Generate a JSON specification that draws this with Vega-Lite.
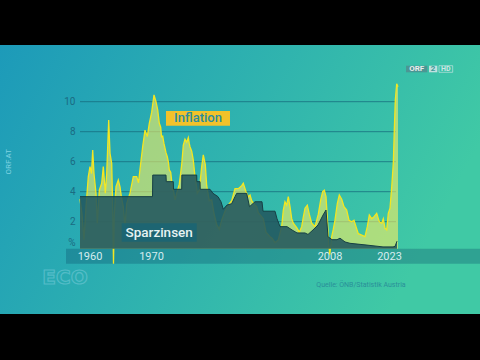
{
  "$schema": "https://vega.github.io/schema/vega-lite/v6.json",
  "width": 480,
  "height": 360,
  "autosize": {"type": "none"},
  "padding": 0,
  "background": "#000000",
  "config": {"view": {"stroke": null}, "axis": {"domain": false, "ticks": false, "labels": false, "grid": false, "title": null}},
  "datasets": {
    "inflation": [
      {"year": 1960.0, "infl": 3.5}, {"year": 1960.4, "infl": 2.5}, {"year": 1960.8, "infl": 0.8}, {"year": 1961.2, "infl": 3.0},
      {"year": 1961.66, "infl": 5.0}, {"year": 1962.0, "infl": 5.67}, {"year": 1962.3, "infl": 5.2}, {"year": 1962.54, "infl": 6.78},
      {"year": 1962.8, "infl": 5.2}, {"year": 1963.2, "infl": 3.9}, {"year": 1963.46, "infl": 1.9}, {"year": 1963.86, "infl": 4.1},
      {"year": 1964.34, "infl": 4.56}, {"year": 1964.66, "infl": 5.67}, {"year": 1965.06, "infl": 3.9}, {"year": 1965.34, "infl": 5.2},
      {"year": 1965.74, "infl": 8.78}, {"year": 1966.0, "infl": 6.56}, {"year": 1966.34, "infl": 5.9}, {"year": 1966.54, "infl": 3.0},
      {"year": 1966.7, "infl": -0.8}, {"year": 1966.86, "infl": 2.5}, {"year": 1967.2, "infl": 4.33}, {"year": 1967.66, "infl": 4.78},
      {"year": 1968.0, "infl": 4.33}, {"year": 1968.3, "infl": 3.6}, {"year": 1968.66, "infl": 3.0}, {"year": 1969.0, "infl": 1.67},
      {"year": 1969.34, "infl": 3.2}, {"year": 1970.0, "infl": 3.9}, {"year": 1970.66, "infl": 5.0}, {"year": 1971.34, "infl": 5.0},
      {"year": 1971.7, "infl": 4.6}, {"year": 1972.0, "infl": 5.5}, {"year": 1972.54, "infl": 7.0}, {"year": 1973.0, "infl": 8.1},
      {"year": 1973.46, "infl": 7.67}, {"year": 1973.86, "infl": 8.56}, {"year": 1974.34, "infl": 9.3}, {"year": 1974.8, "infl": 10.45},
      {"year": 1975.2, "infl": 10.0}, {"year": 1975.54, "infl": 9.45}, {"year": 1975.7, "infl": 9.0}, {"year": 1975.86, "infl": 8.56},
      {"year": 1976.14, "infl": 8.3}, {"year": 1976.3, "infl": 7.67}, {"year": 1976.54, "infl": 7.7}, {"year": 1976.8, "infl": 7.2},
      {"year": 1977.2, "infl": 6.6}, {"year": 1977.46, "infl": 6.33}, {"year": 1977.66, "infl": 6.0}, {"year": 1977.86, "infl": 5.45},
      {"year": 1978.14, "infl": 5.3}, {"year": 1978.54, "infl": 4.1}, {"year": 1978.7, "infl": 4.1}, {"year": 1979.0, "infl": 3.45},
      {"year": 1979.34, "infl": 3.9}, {"year": 1979.86, "infl": 4.5}, {"year": 1980.34, "infl": 5.8}, {"year": 1980.66, "infl": 7.1},
      {"year": 1981.0, "infl": 7.5}, {"year": 1981.34, "infl": 7.3}, {"year": 1981.66, "infl": 7.6}, {"year": 1981.86, "infl": 7.2},
      {"year": 1982.0, "infl": 7.0}, {"year": 1982.34, "infl": 6.7}, {"year": 1982.66, "infl": 6.1}, {"year": 1983.0, "infl": 5.0},
      {"year": 1983.34, "infl": 4.3}, {"year": 1983.46, "infl": 3.9}, {"year": 1983.86, "infl": 4.1}, {"year": 1984.34, "infl": 5.67},
      {"year": 1984.66, "infl": 6.45}, {"year": 1985.06, "infl": 5.8}, {"year": 1985.34, "infl": 4.4}, {"year": 1985.86, "infl": 3.4},
      {"year": 1986.34, "infl": 3.45}, {"year": 1986.8, "infl": 2.56}, {"year": 1987.34, "infl": 1.8}, {"year": 1987.86, "infl": 1.5},
      {"year": 1988.34, "infl": 2.1}, {"year": 1989.0, "infl": 2.7}, {"year": 1989.66, "infl": 3.1}, {"year": 1990.34, "infl": 3.4},
      {"year": 1991.0, "infl": 4.2}, {"year": 1991.66, "infl": 4.2}, {"year": 1992.34, "infl": 4.4}, {"year": 1992.66, "infl": 4.56},
      {"year": 1993.2, "infl": 4.0}, {"year": 1993.66, "infl": 3.67}, {"year": 1994.0, "infl": 3.78}, {"year": 1994.34, "infl": 3.4},
      {"year": 1995.0, "infl": 3.1}, {"year": 1995.34, "infl": 3.0}, {"year": 1995.66, "infl": 2.6}, {"year": 1996.66, "infl": 2.2},
      {"year": 1997.2, "infl": 1.3}, {"year": 1998.0, "infl": 1.0}, {"year": 1998.4, "infl": 0.9}, {"year": 1999.0, "infl": 0.6},
      {"year": 1999.66, "infl": 0.78}, {"year": 2000.34, "infl": 1.67}, {"year": 2000.66, "infl": 2.78}, {"year": 2001.0, "infl": 3.33},
      {"year": 2001.34, "infl": 3.1}, {"year": 2001.66, "infl": 3.67}, {"year": 2002.0, "infl": 3.0}, {"year": 2002.34, "infl": 2.2},
      {"year": 2002.66, "infl": 1.9}, {"year": 2003.34, "infl": 1.6}, {"year": 2003.86, "infl": 1.3}, {"year": 2004.34, "infl": 1.67},
      {"year": 2004.66, "infl": 2.3}, {"year": 2005.0, "infl": 2.9}, {"year": 2005.46, "infl": 3.1}, {"year": 2005.86, "infl": 2.5},
      {"year": 2006.34, "infl": 1.9}, {"year": 2007.0, "infl": 1.67}, {"year": 2007.66, "infl": 2.5}, {"year": 2008.14, "infl": 3.45},
      {"year": 2008.54, "infl": 4.0}, {"year": 2008.86, "infl": 4.1}, {"year": 2009.2, "infl": 3.67}, {"year": 2009.46, "infl": 2.3},
      {"year": 2009.74, "infl": 0.6}, {"year": 2009.96, "infl": -0.2}, {"year": 2010.34, "infl": 1.0}, {"year": 2010.66, "infl": 1.5},
      {"year": 2011.0, "infl": 2.1}, {"year": 2011.46, "infl": 3.2}, {"year": 2011.86, "infl": 3.78}, {"year": 2012.34, "infl": 3.5},
      {"year": 2012.8, "infl": 3.0}, {"year": 2013.34, "infl": 2.78}, {"year": 2013.8, "infl": 2.1}, {"year": 2014.34, "infl": 2.0},
      {"year": 2014.8, "infl": 2.1}, {"year": 2015.2, "infl": 1.67}, {"year": 2015.66, "infl": 1.2}, {"year": 2016.34, "infl": 1.1},
      {"year": 2017.0, "infl": 1.0}, {"year": 2017.46, "infl": 1.67}, {"year": 2017.86, "infl": 2.45}, {"year": 2018.34, "infl": 2.2},
      {"year": 2018.8, "infl": 2.33}, {"year": 2019.34, "infl": 2.56}, {"year": 2019.86, "infl": 2.0}, {"year": 2020.34, "infl": 1.9},
      {"year": 2020.66, "infl": 2.2}, {"year": 2021.0, "infl": 1.56}, {"year": 2021.34, "infl": 1.45}, {"year": 2021.66, "infl": 2.56},
      {"year": 2022.0, "infl": 2.9}, {"year": 2022.34, "infl": 4.3}, {"year": 2022.66, "infl": 5.9}, {"year": 2022.86, "infl": 8.1},
      {"year": 2023.06, "infl": 10.1}, {"year": 2023.34, "infl": 11.2}, {"year": 2023.6, "infl": 11.0}
    ],
    "sparzinsen": [
      {"year": 1960.0, "zins": 3.67}, {"year": 1974.5, "zins": 3.67}, {"year": 1974.55, "zins": 5.11}, {"year": 1977.2, "zins": 5.11},
      {"year": 1977.25, "zins": 4.67}, {"year": 1978.66, "zins": 4.67}, {"year": 1978.7, "zins": 4.16}, {"year": 1980.34, "zins": 4.16},
      {"year": 1980.38, "zins": 5.11}, {"year": 1983.34, "zins": 5.11}, {"year": 1983.38, "zins": 4.67}, {"year": 1984.0, "zins": 4.67},
      {"year": 1984.05, "zins": 4.16}, {"year": 1986.0, "zins": 4.16}, {"year": 1986.6, "zins": 3.89}, {"year": 1987.6, "zins": 3.67},
      {"year": 1988.2, "zins": 3.33}, {"year": 1988.66, "zins": 2.83}, {"year": 1989.4, "zins": 3.11}, {"year": 1990.34, "zins": 3.2},
      {"year": 1991.0, "zins": 3.67}, {"year": 1991.34, "zins": 3.89}, {"year": 1993.34, "zins": 3.89}, {"year": 1993.9, "zins": 3.0},
      {"year": 1995.0, "zins": 3.33}, {"year": 1996.4, "zins": 3.33}, {"year": 1996.6, "zins": 2.7}, {"year": 1999.0, "zins": 2.7},
      {"year": 1999.4, "zins": 2.2}, {"year": 2000.0, "zins": 1.67}, {"year": 2001.4, "zins": 1.67}, {"year": 2002.4, "zins": 1.45},
      {"year": 2003.4, "zins": 1.25}, {"year": 2005.0, "zins": 1.25}, {"year": 2005.6, "zins": 1.15}, {"year": 2006.6, "zins": 1.45},
      {"year": 2007.6, "zins": 1.78}, {"year": 2008.6, "zins": 2.44}, {"year": 2009.2, "zins": 2.78}, {"year": 2009.6, "zins": 1.0},
      {"year": 2010.4, "zins": 0.8}, {"year": 2011.4, "zins": 0.8}, {"year": 2012.0, "zins": 0.9}, {"year": 2013.0, "zins": 0.65},
      {"year": 2014.0, "zins": 0.56}, {"year": 2017.4, "zins": 0.44}, {"year": 2020.6, "zins": 0.32}, {"year": 2022.6, "zins": 0.32},
      {"year": 2023.0, "zins": 0.35}, {"year": 2023.4, "zins": 0.7}
    ],
    "grid": [{"g": 2}, {"g": 4}, {"g": 6}, {"g": 8}, {"g": 10}]
  },
  "layer": [
    {
      "data": {"values": [{}]},
      "mark": {"type": "rect", "fill": {"gradient": "linear", "x1": 0, "y1": 0, "x2": 1, "y2": 0.4, "stops": [{"offset": 0, "color": "#1b98ba"}, {"offset": 1, "color": "#40c9a5"}]}},
      "encoding": {
        "x": {"datum": 1944, "type": "quantitative", "scale": {"domain": [1944, 2040], "nice": false, "zero": false}},
        "x2": {"datum": 2040},
        "y": {"datum": 16.78, "type": "quantitative", "scale": {"domain": [-7.22, 16.78], "nice": false, "zero": false}},
        "y2": {"datum": -7.22}
      }
    },
    {
      "data": {"name": "grid"},
      "mark": {"type": "rule", "stroke": "#16697c", "strokeWidth": 1, "opacity": 0.75},
      "encoding": {
        "y": {"field": "g", "type": "quantitative"},
        "x": {"datum": 1960, "type": "quantitative"},
        "x2": {"datum": 2023.2}
      }
    },
    {
      "data": {"name": "grid"},
      "mark": {"type": "text", "fill": "#1b6b82", "font": "Roboto", "fontSize": 10, "align": "right", "baseline": "middle"},
      "encoding": {
        "text": {"field": "g", "type": "quantitative"},
        "y": {"field": "g", "type": "quantitative"},
        "x": {"datum": 1959.1, "type": "quantitative"}
      }
    },
    {
      "data": {"values": [{}]},
      "mark": {"type": "text", "text": "%", "fill": "#1b6b82", "font": "Roboto", "fontSize": 10, "align": "right", "baseline": "middle"},
      "encoding": {
        "x": {"datum": 1959.1, "type": "quantitative"},
        "y": {"datum": 0.58, "type": "quantitative"}
      }
    },
    {
      "data": {"values": [{}]},
      "mark": {"type": "rect", "fill": "#0a4a66", "opacity": 0.3},
      "encoding": {
        "x": {"datum": 1957.2, "type": "quantitative"},
        "x2": {"datum": 2040},
        "y": {"datum": 0.2, "type": "quantitative"},
        "y2": {"datum": -0.8}
      }
    },
    {
      "data": {"values": [{}]},
      "mark": {"type": "text", "text": "1960", "fill": "#d4ecef", "font": "Roboto", "fontSize": 11, "align": "center", "baseline": "middle"},
      "encoding": {"x": {"datum": 1962.0, "type": "quantitative"}, "y": {"datum": -0.35, "type": "quantitative"}}
    },
    {
      "data": {"values": [{}]},
      "mark": {"type": "text", "text": "1970", "fill": "#d4ecef", "font": "Roboto", "fontSize": 11, "align": "center", "baseline": "middle"},
      "encoding": {"x": {"datum": 1974.3, "type": "quantitative"}, "y": {"datum": -0.35, "type": "quantitative"}}
    },
    {
      "data": {"values": [{}]},
      "mark": {"type": "text", "text": "2008", "fill": "#d4ecef", "font": "Roboto", "fontSize": 11, "align": "center", "baseline": "middle"},
      "encoding": {"x": {"datum": 2010.0, "type": "quantitative"}, "y": {"datum": -0.35, "type": "quantitative"}}
    },
    {
      "data": {"values": [{}]},
      "mark": {"type": "text", "text": "2023", "fill": "#d4ecef", "font": "Roboto", "fontSize": 11, "align": "center", "baseline": "middle"},
      "encoding": {"x": {"datum": 2021.9, "type": "quantitative"}, "y": {"datum": -0.35, "type": "quantitative"}}
    },
    {
      "data": {"name": "inflation"},
      "mark": {"type": "area", "fill": "#f6ef62", "opacity": 0.6},
      "encoding": {
        "x": {"field": "year", "type": "quantitative"},
        "y": {"field": "infl", "type": "quantitative"},
        "y2": {"datum": 0.2}
      }
    },
    {
      "data": {"name": "inflation"},
      "mark": {"type": "line", "stroke": "#f3e622", "strokeWidth": 1.3},
      "encoding": {
        "x": {"field": "year", "type": "quantitative"},
        "y": {"field": "infl", "type": "quantitative"}
      }
    },
    {
      "data": {"name": "sparzinsen"},
      "mark": {"type": "area", "fill": "#22575f", "opacity": 0.88, "line": {"stroke": "#163f44", "strokeWidth": 1}},
      "encoding": {
        "x": {"field": "year", "type": "quantitative"},
        "y": {"field": "zins", "type": "quantitative"},
        "y2": {"datum": 0.2}
      }
    },
    {
      "data": {"values": [{}]},
      "mark": {"type": "rect", "fill": "#f2c22a"},
      "encoding": {
        "x": {"datum": 1977.2, "type": "quantitative"},
        "x2": {"datum": 1990.0},
        "y": {"datum": 9.38, "type": "quantitative"},
        "y2": {"datum": 8.4}
      }
    },
    {
      "data": {"values": [{}]},
      "mark": {"type": "text", "text": "Inflation", "fill": "#2b8d9e", "font": "Roboto", "fontSize": 13, "fontWeight": 500, "align": "center", "baseline": "middle"},
      "encoding": {
        "x": {"datum": 1983.6, "type": "quantitative"},
        "y": {"datum": 8.89, "type": "quantitative"}
      }
    },
    {
      "data": {"values": [{}]},
      "mark": {"type": "rect", "fill": "#1c6573", "opacity": 0.95},
      "encoding": {
        "x": {"datum": 1968.34, "type": "quantitative"},
        "x2": {"datum": 1983.34},
        "y": {"datum": 1.89, "type": "quantitative"},
        "y2": {"datum": 0.67}
      }
    },
    {
      "data": {"values": [{}]},
      "mark": {"type": "text", "text": "Sparzinsen", "fill": "#e6f3f3", "font": "Roboto", "fontSize": 13.5, "fontWeight": 500, "align": "center", "baseline": "middle"},
      "encoding": {
        "x": {"datum": 1975.84, "type": "quantitative"},
        "y": {"datum": 1.28, "type": "quantitative"}
      }
    },
    {
      "data": {"values": [{}]},
      "mark": {"type": "text", "text": "ORF.AT", "fill": "#7fd3e2", "font": "Roboto", "fontSize": 8, "angle": 270, "align": "center", "baseline": "middle"},
      "encoding": {
        "x": {"datum": 1945.8, "type": "quantitative"},
        "y": {"datum": 6.0, "type": "quantitative"}
      }
    },
    {
      "data": {"values": [{}]},
      "mark": {"type": "rect", "fill": "#4f8e90", "opacity": 0.85},
      "encoding": {
        "x": {"datum": 2025.2, "type": "quantitative"},
        "x2": {"datum": 2029.46},
        "y": {"datum": 12.4, "type": "quantitative"},
        "y2": {"datum": 11.96}
      }
    },
    {
      "data": {"values": [{}]},
      "mark": {"type": "rect", "fill": "#cfe3e3", "opacity": 0.9},
      "encoding": {
        "x": {"datum": 2029.8, "type": "quantitative"},
        "x2": {"datum": 2031.46},
        "y": {"datum": 12.4, "type": "quantitative"},
        "y2": {"datum": 11.96}
      }
    },
    {
      "data": {"values": [{}]},
      "mark": {"type": "rect", "fill": null, "stroke": "#cfe6e4", "strokeWidth": 0.8, "opacity": 0.8},
      "encoding": {
        "x": {"datum": 2031.8, "type": "quantitative"},
        "x2": {"datum": 2034.54},
        "y": {"datum": 12.4, "type": "quantitative"},
        "y2": {"datum": 11.96}
      }
    },
    {
      "data": {"values": [{}]},
      "mark": {"type": "text", "text": "ORF", "fill": "#e8eeee", "font": "Roboto", "fontSize": 8, "fontWeight": "bold", "align": "center", "baseline": "middle"},
      "encoding": {
        "x": {"datum": 2027.34, "type": "quantitative"},
        "y": {"datum": 12.18, "type": "quantitative"}
      }
    },
    {
      "data": {"values": [{}]},
      "mark": {"type": "text", "text": "2", "fill": "#3a9a9a", "font": "Roboto", "fontSize": 8, "fontWeight": "bold", "align": "center", "baseline": "middle"},
      "encoding": {
        "x": {"datum": 2030.63, "type": "quantitative"},
        "y": {"datum": 12.18, "type": "quantitative"}
      }
    },
    {
      "data": {"values": [{}]},
      "mark": {"type": "text", "text": "HD", "fill": "#cfe6e4", "font": "Roboto", "fontSize": 7, "fontWeight": "bold", "align": "center", "baseline": "middle"},
      "encoding": {
        "x": {"datum": 2033.17, "type": "quantitative"},
        "y": {"datum": 12.18, "type": "quantitative"}
      }
    },
    {
      "data": {"values": [{}]},
      "mark": {"type": "text", "text": "ECO", "fill": null, "stroke": "#70c8d6", "strokeWidth": 1.2, "opacity": 0.6, "font": "DejaVu Sans", "fontSize": 20, "fontWeight": "bold", "align": "center", "baseline": "middle"},
      "encoding": {
        "x": {"datum": 1957.0, "type": "quantitative"},
        "y": {"datum": -1.72, "type": "quantitative"}
      }
    },
    {
      "data": {"values": [{}]},
      "mark": {"type": "text", "text": "Quelle: ÖNB/Statistik Austria", "fill": "#2a8f99", "font": "Roboto", "fontSize": 7, "align": "center", "baseline": "middle"},
      "encoding": {
        "x": {"datum": 2016.2, "type": "quantitative"},
        "y": {"datum": -2.22, "type": "quantitative"}
      }
    },
    {
      "data": {"values": [{}]},
      "mark": {"type": "rect", "fill": "#000000"},
      "encoding": {
        "x": {"datum": 1944, "type": "quantitative"},
        "x2": {"datum": 2040},
        "y": {"datum": 16.78, "type": "quantitative"},
        "y2": {"datum": 13.78}
      }
    },
    {
      "data": {"values": [{}]},
      "mark": {"type": "rect", "fill": "#000000"},
      "encoding": {
        "x": {"datum": 1944, "type": "quantitative"},
        "x2": {"datum": 2040},
        "y": {"datum": -4.153, "type": "quantitative"},
        "y2": {"datum": -7.22}
      }
    }
  ]
}
